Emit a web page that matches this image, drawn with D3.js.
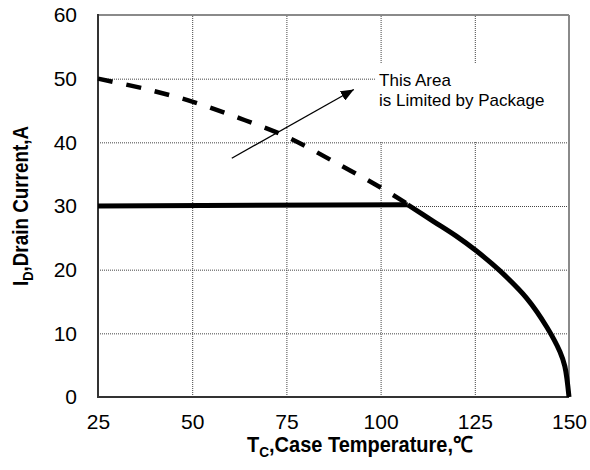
<!DOCTYPE html>
<html>
<head>
<meta charset="utf-8">
<script src="https://cdn.jsdelivr.net/npm/d3@7"></script>
<style>
  body { margin: 0; background: #fff; }
  svg { display: block; font-family: "Liberation Sans", Arial, sans-serif; }
  .grid line { stroke: #444; stroke-width: 1; stroke-dasharray: 1,1; }
  .grid path { display: none; }
  .axis text { font-size: 21px; fill: #000; }
  .axis path { display: none; }
  .title { font-size: 22px; font-weight: bold; fill: #000; }
</style>
</head>
<body>
<div id="chart"></div>
<script>
// axis ticks
var xTicks = [25, 50, 75, 100, 125, 150];
var yTicks = [0, 10, 20, 30, 40, 50, 60];
var gridX = [50, 75, 100, 125];
var gridY = [10, 20, 30, 40, 50];

// dashed curve: silicon limit above the package limit
var siliconT = [25, 37.5, 50, 62.5, 75, 87.5, 100, 107.5];
var siliconI = [50, 48.4, 46.4, 43.8, 40.9, 37.0, 32.9, 30.2];

// solid curve: package limited then derated
var derateT = [25, 107.2, 114, 120, 125.3, 131.7, 138.8, 144.1, 147.6, 148.9, 150];
var derateI = [30, 30.2, 27.6, 25.3, 23.0, 19.8, 15.5, 11.0, 7.1, 4.8, 0];

// annotation
var noteLines = ["This Area", "is Limited by Package"];
var arrowFrom = [60.5, 37.5];
var arrowTo = [92.9, 48.3];

var W = 590, H = 470;
var margin = { top: 15, right: 21, bottom: 73, left: 98 };
var width = W - margin.left - margin.right;
var height = H - margin.top - margin.bottom;

var svg = d3.select("#chart").append("svg")
    .attr("width", W)
    .attr("height", H);

svg.append("defs").append("marker")
    .attr("id", "head")
    .attr("markerUnits", "userSpaceOnUse")
    .attr("viewBox", "0 0 12 10")
    .attr("refX", 12)
    .attr("refY", 5)
    .attr("markerWidth", 13)
    .attr("markerHeight", 11)
    .attr("orient", "auto")
    .append("path")
    .attr("d", "M0,0L12,5L0,10Z")
    .attr("fill", "#000");

var g = svg.append("g")
    .attr("transform", "translate(" + margin.left + "," + margin.top + ")");

var x = d3.scaleLinear().domain([25, 150]).range([0, width]);
var y = d3.scaleLinear().domain([0, 60]).range([height, 0]);

// grid
g.append("g")
    .attr("class", "grid")
    .attr("transform", "translate(0," + height + ")")
    .call(d3.axisBottom(x).tickValues(gridX).tickSize(-height).tickFormat(""));
g.append("g")
    .attr("class", "grid")
    .call(d3.axisLeft(y).tickValues(gridY).tickSize(-width).tickFormat(""));

// frame
g.append("line").attr("x1", 0).attr("x2", width).attr("y1", 0).attr("y2", 0)
    .attr("stroke", "#8a8a8a").attr("stroke-width", 2);
g.append("line").attr("x1", width).attr("x2", width).attr("y1", 0).attr("y2", height)
    .attr("stroke", "#8a8a8a").attr("stroke-width", 2);
g.append("line").attr("x1", 0).attr("x2", 0).attr("y1", -1).attr("y2", height + 1)
    .attr("stroke", "#333").attr("stroke-width", 2);
g.append("line").attr("x1", -1).attr("x2", width).attr("y1", height).attr("y2", height)
    .attr("stroke", "#333").attr("stroke-width", 2);

// tick labels
g.append("g")
    .attr("class", "axis")
    .attr("transform", "translate(0," + height + ")")
    .call(d3.axisBottom(x).tickValues(xTicks).tickSize(0).tickPadding(17));
g.append("g")
    .attr("class", "axis")
    .call(d3.axisLeft(y).tickValues(yTicks).tickSize(0).tickPadding(21));

// note box covering the grid
g.append("rect")
    .attr("x", x(98.5))
    .attr("y", y(52.4))
    .attr("width", x(150) - x(98.5) - 1)
    .attr("height", y(40.1) - y(52.4))
    .attr("fill", "#fff");

var line = d3.line()
    .x(function (d) { return x(d[0]); })
    .y(function (d) { return y(d[1]); })
    .curve(d3.curveCatmullRom.alpha(0.5));

var flat = d3.line()
    .x(function (d) { return x(d[0]); })
    .y(function (d) { return y(d[1]); });

g.append("path")
    .datum(d3.zip(siliconT, siliconI))
    .attr("d", line)
    .attr("fill", "none")
    .attr("stroke", "#000")
    .attr("stroke-width", 4.5)
    .attr("stroke-dasharray", "15,14");

var derate = d3.zip(derateT, derateI);
g.append("path")
    .datum(derate.slice(0, 2))
    .attr("d", flat)
    .attr("fill", "none")
    .attr("stroke", "#000")
    .attr("stroke-width", 5);
g.append("path")
    .datum(derate.slice(1))
    .attr("d", line)
    .attr("fill", "none")
    .attr("stroke", "#000")
    .attr("stroke-width", 5)
    .attr("stroke-linejoin", "round");

// arrow
g.append("line")
    .attr("x1", x(arrowFrom[0])).attr("y1", y(arrowFrom[1]))
    .attr("x2", x(arrowTo[0])).attr("y2", y(arrowTo[1]))
    .attr("stroke", "#000")
    .attr("stroke-width", 1.3)
    .attr("marker-end", "url(#head)");

g.selectAll(".note")
    .data(noteLines)
    .enter().append("text")
    .attr("class", "note")
    .attr("x", x(99.6))
    .attr("y", function (d, i) { return y(48.9) + i * 20; })
    .attr("font-size", 17)
    .attr("fill", "#000")
    .text(function (d) { return d; });

// axis titles
var xt = svg.append("text")
    .attr("class", "title")
    .attr("x", 247)
    .attr("y", 452)
    .attr("textLength", 226)
    .attr("lengthAdjust", "spacingAndGlyphs");
xt.append("tspan").text("T");
xt.append("tspan").attr("font-size", 15).attr("dy", 5).text("C");
xt.append("tspan").attr("dy", -5).text(",Case Temperature,\u2103");

var yt = svg.append("text")
    .attr("class", "title")
    .attr("transform", "translate(28," + (margin.top + height / 2) + ") rotate(-90)")
    .attr("x", -80)
    .attr("y", 0)
    .attr("textLength", 160)
    .attr("lengthAdjust", "spacingAndGlyphs");
yt.append("tspan").text("I");
yt.append("tspan").attr("font-size", 15).attr("dy", 5).text("D");
yt.append("tspan").attr("dy", -5).text(",Drain Current,A");
</script>
</body>
</html>
